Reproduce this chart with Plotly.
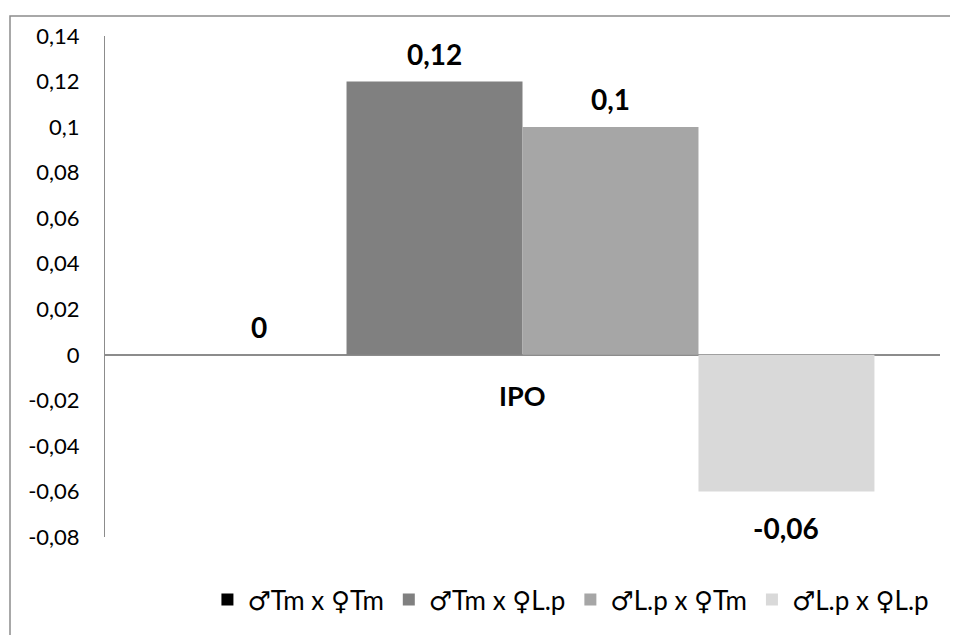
import plotly.graph_objects as go

categories = ["IPO"]
series_names = ["♂Tm x ♀Tm", "♂Tm x ♀L.p", "♂L.p x ♀Tm", "♂L.p x ♀L.p"]
series_values = [0, 0.12, 0.1, -0.06]
value_labels = ["0", "0,12", "0,1", "-0,06"]
colors = ["#000000", "#808080", "#A6A6A6", "#D9D9D9"]
tick_vals = [0.14, 0.12, 0.1, 0.08, 0.06, 0.04, 0.02, 0, -0.02, -0.04, -0.06, -0.08]
tick_text = ["0,14", "0,12", "0,1", "0,08", "0,06", "0,04", "0,02", "0",
             "-0,02", "-0,04", "-0,06", "-0,08"]

bargap = 0.157
n = len(series_names)
bw = (1 - bargap) / n

fig = go.Figure()
for i, (name, v, c) in enumerate(zip(series_names, series_values, colors)):
    fig.add_trace(go.Bar(x=categories, y=[v], name=name, marker=dict(color=c, line=dict(width=0))))

annotations = []
for i, (v, lab) in enumerate(zip(series_values, value_labels)):
    xc = -0.5 + bargap / 2 + bw * (i + 0.5)
    annotations.append(dict(x=xc, y=v, xref="x", yref="y", text="<b>%s</b>" % lab,
                            showarrow=False, font=dict(size=28, color="black", family="Lato"),
                            yshift=(28 if v >= 0 else -37)))
annotations.append(dict(x=0, y=0, xref="x", yref="y", text="<b>IPO</b>", showarrow=False,
                        font=dict(size=27, color="black", family="Lato"), yshift=-41))

T, B = 28, 96
plot_h = 627 - T - B
fig.update_layout(
    width=950, height=627,
    barmode="group", bargap=bargap, bargroupgap=0,
    plot_bgcolor="white", paper_bgcolor="white",
    margin=dict(l=97, r=18, t=T, b=B),
    showlegend=True,
    legend=dict(orientation="h", x=0.558, xanchor="center", y=-0.078, yanchor="top",
                font=dict(size=26, family="Lato, DejaVu Sans", color="black"),
                traceorder="normal", itemwidth=30),
    annotations=annotations,
    shapes=[dict(type="rect", xref="paper", yref="paper", x0=-(97 - 2) / 835, x1=1.05,
                 y0=-0.3, y1=1 + (T - 8) / plot_h,
                 line=dict(color="#8C8C8C", width=1.5), fillcolor="rgba(0,0,0,0)", layer="above")],
)
fig.update_xaxes(showticklabels=False, showline=False, showgrid=False, zeroline=False,
                 range=[-0.5, 0.5])
fig.update_yaxes(range=[-0.08, 0.14], tickvals=tick_vals, ticktext=tick_text,
                 showgrid=False, showline=True, linecolor="#8C8C8C", linewidth=1,
                 zeroline=True, zerolinecolor="#8C8C8C", zerolinewidth=1.5,
                 ticks="", ticklen=0, ticklabelstandoff=20,
                 tickfont=dict(size=22, family="Lato", color="black"))

fig.write_html("out.html")
